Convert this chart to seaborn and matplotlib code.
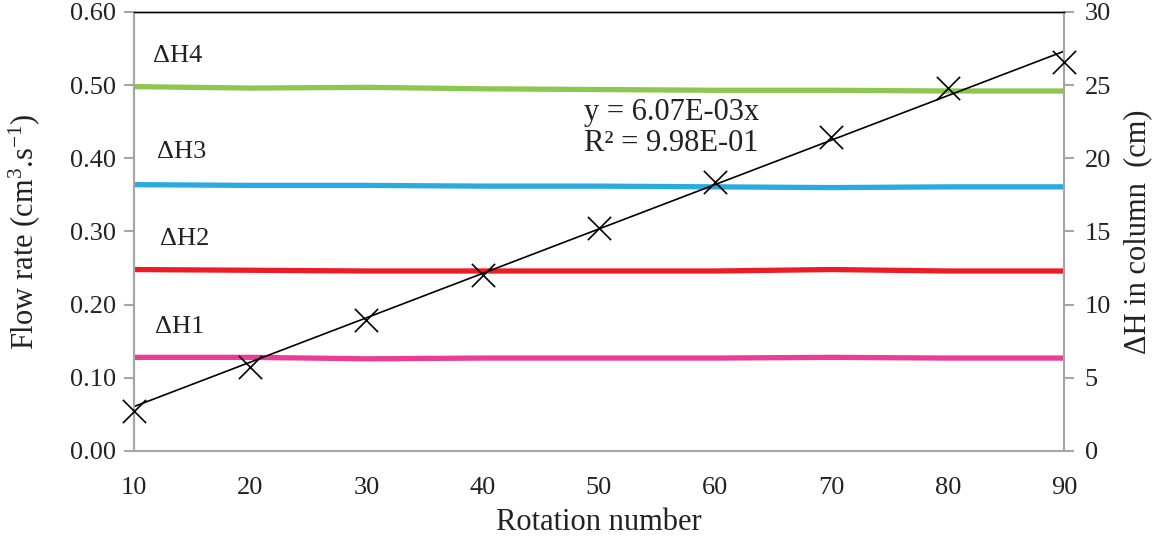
import numpy as np
import pandas as pd
import matplotlib
matplotlib.use("Agg")
import matplotlib.pyplot as plt
import seaborn as sns

# ------------------------------
# Dados
# ------------------------------
rotacao = [10, 20, 30, 40, 50, 60, 70, 80, 90]
vazao = [0.054, 0.115, 0.179, 0.240, 0.305, 0.368, 0.429, 0.496, 0.532]

dh1 = [6.40, 6.40, 6.30, 6.35, 6.35, 6.35, 6.40, 6.35, 6.35]
dh2 = [12.40, 12.35, 12.30, 12.30, 12.30, 12.30, 12.40, 12.30, 12.30]
dh3 = [18.20, 18.15, 18.15, 18.10, 18.10, 18.05, 18.00, 18.05, 18.05]
dh4 = [24.90, 24.80, 24.85, 24.75, 24.70, 24.65, 24.65, 24.60, 24.60]

inclinacao = 6.07e-3  # linha de tendência y = a x
rotulos_dh = ["\u0394H1", "\u0394H2", "\u0394H3", "\u0394H4"]
cores = ["#ec3d96", "#ed1c24", "#29abe2", "#8dc74f"]

# ------------------------------
# Estilo
# ------------------------------
sns.set_style("white")
plt.rcParams['font.family'] = ['Liberation Serif', 'DejaVu Serif']
plt.rcParams['mathtext.fontset'] = 'custom'
plt.rcParams['mathtext.rm'] = 'Liberation Serif'
plt.rcParams['mathtext.it'] = 'Liberation Serif'
cinza = "#a6a6a6"
texto = "#222222"
fs_tick = 19
fs_label = 22

fig = plt.figure(figsize=(11.56, 5.42), dpi=100)
ax = fig.add_axes([0.1159, 0.1679, 0.8045, 0.81])
ax2 = ax.twinx()

# linhas de ΔH no eixo da direita
df_dh = pd.DataFrame({"x": rotacao * 4,
                      "y": dh1 + dh2 + dh3 + dh4,
                      "serie": sum([[r] * len(rotacao) for r in rotulos_dh], [])})
sns.lineplot(data=df_dh, x="x", y="y", hue="serie", palette=dict(zip(rotulos_dh, cores)),
             linewidth=3.8, legend=False, ax=ax2, solid_capstyle="round")

# vazão + linha de tendência no eixo da esquerda
x_arr = np.array(rotacao)
sns.lineplot(x=x_arr, y=inclinacao * x_arr, color="black", linewidth=1.2, ax=ax)
sns.scatterplot(x=rotacao, y=vazao, marker="x", s=280, color="black", linewidth=1.2,
                ax=ax, zorder=5, clip_on=False)

ax.set_zorder(ax2.get_zorder() + 1)
ax.patch.set_visible(False)

# eixos
ax.set_xlim(10, 90)
ax.set_ylim(0, 0.60)
ax2.set_ylim(0, 30)
ax.set_xticks(range(10, 91, 10))
ax.set_yticks(np.arange(0, 0.61, 0.1))
ax.set_yticklabels([f"{v:.2f}" for v in np.arange(0, 0.61, 0.1)])
ax2.set_yticks(range(0, 31, 5))

for a in (ax, ax2):
    for lado in ("left", "right", "bottom"):
        a.spines[lado].set_color(cinza)
        a.spines[lado].set_linewidth(1.5)
    a.spines["top"].set_color("black")
    a.spines["top"].set_linewidth(1.0)
    a.tick_params(colors=texto, labelsize=fs_tick, length=7, width=1.5, color=cinza, direction="out")

ax.tick_params(axis="x", pad=12)
ax.tick_params(axis="y", pad=6)
ax2.tick_params(axis="y", pad=8)
ax.set_xlabel("Rotation number", fontsize=fs_label, color=texto, labelpad=6)
ax.set_ylabel("Flow rate (cm$^{3}$.s$^{-1}$)", fontsize=fs_label, color=texto, labelpad=20)
ax2.set_ylabel("\u0394H in column  (cm)", fontsize=fs_label, color=texto, labelpad=9)

# rótulos das séries
pos_rotulos = [(11.8, 0.170), (12.2, 0.290), (12.0, 0.408), (11.6, 0.540)]
for txt, (px, py) in zip(rotulos_dh, pos_rotulos):
    ax.text(px, py, txt, fontsize=fs_tick, color=texto, va="center")

ax.text(0.4835, 0.735, "y = 6.07E-03x\nR\u00b2 = 9.98E-01", transform=ax.transAxes,
        fontsize=fs_tick + 3, color=texto, va="center", linespacing=1.1)

fig.savefig("out.png", dpi=100)
